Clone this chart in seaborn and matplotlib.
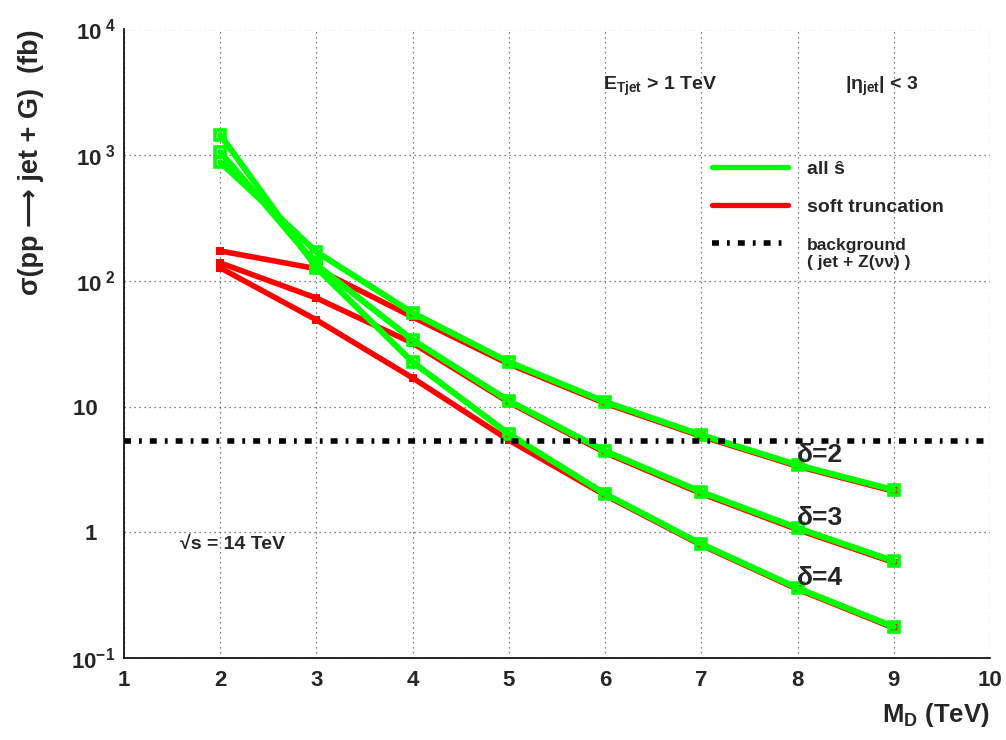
import matplotlib
matplotlib.use("Agg")
import matplotlib.pyplot as plt
import numpy as np
import pandas as pd
import seaborn as sns
from matplotlib.ticker import FixedLocator, MultipleLocator, LogLocator, FixedFormatter, NullFormatter
from matplotlib.lines import Line2D

# ---------------- data ----------------
m_d = [2, 3, 4, 5, 6, 7, 8, 9]
all_s_delta2 = [880, 170, 55.6, 22.6, 10.9, 5.94, 3.43, 2.17]
all_s_delta3 = [1060, 134, 33.9, 11.1, 4.43, 2.09, 1.08, 0.59]
all_s_delta4 = [1450, 127, 22.6, 6.05, 2.02, 0.807, 0.36, 0.177]
soft_delta2 = [173, 125, 51.6, 21.8, 10.6, 5.80, 3.35, 2.12]
soft_delta3 = [139, 73.0, 32.0, 10.8, 4.30, 2.03, 1.05, 0.575]
soft_delta4 = [127, 48.9, 16.9, 5.40, 1.97, 0.79, 0.352, 0.173]
background_value = 5.3

x_ticks = [1, 2, 3, 4, 5, 6, 7, 8, 9, 10]
y_ticks = [0.1, 1, 10, 100, 1000, 10000]
y_tick_labels = [r"$10^{-1}$", "1   ", "10   ", r"$10^{\ 2}$", r"$10^{\ 3}$", r"$10^{\ 4}$"]
delta_labels = ["δ=2", "δ=3", "δ=4"]

GREEN = "#00ff00"
RED = "#ff0000"

# ---------------- style ----------------
sns.set_style("white")
plt.rcParams["font.family"] = ["Liberation Sans", "DejaVu Sans"]
plt.rcParams["font.weight"] = "bold"
plt.rcParams["mathtext.fontset"] = "custom"
plt.rcParams["mathtext.rm"] = "Liberation Sans:bold"
plt.rcParams["mathtext.it"] = "Liberation Sans:bold"
plt.rcParams["mathtext.bf"] = "Liberation Sans:bold"
plt.rcParams["mathtext.default"] = "rm"

fig = plt.figure(figsize=(10.06, 7.40), dpi=100)
ax = fig.add_axes([124 / 1006, 1 - 658 / 740, 866 / 1006, 628.5 / 740])

records = []
for name, vals in [("all2", all_s_delta2), ("all3", all_s_delta3), ("all4", all_s_delta4),
                   ("soft2", soft_delta2), ("soft3", soft_delta3), ("soft4", soft_delta4)]:
    for x, v in zip(m_d, vals):
        records.append({"series": name, "M_D": x, "sigma": v})
df = pd.DataFrame(records)

# soft truncation (red) underneath
for s in ["soft2", "soft3", "soft4"]:
    d = df[df.series == s]
    sns.lineplot(data=d, x="M_D", y="sigma", ax=ax, color=RED, lw=4.0, sort=False,
                 estimator=None, marker="s", markersize=6, markeredgewidth=0,
                 markerfacecolor=RED, zorder=3, legend=False)

# all s-hat (green) on top
for s in ["all2", "all3", "all4"]:
    d = df[df.series == s]
    sns.lineplot(data=d, x="M_D", y="sigma", ax=ax, color=GREEN, lw=4.4, sort=False,
                 estimator=None, marker="s", markersize=7, markeredgewidth=2.6,
                 markerfacecolor="none", markeredgecolor=GREEN, zorder=4, legend=False)

# background
ax.axhline(background_value, color="black", lw=4.0, dashes=[1.25, 1.45, 0.5, 1.45], zorder=5)

ax.set_yscale("log")
ax.set_xlim(1, 10)
ax.set_ylim(0.1, 10000)

ax.xaxis.set_major_locator(FixedLocator(x_ticks))
ax.xaxis.set_minor_locator(MultipleLocator(0.2))
ax.set_xticklabels([str(t) for t in x_ticks])
ax.yaxis.set_major_locator(FixedLocator(y_ticks))
ax.yaxis.set_major_formatter(FixedFormatter(y_tick_labels))
ax.yaxis.set_minor_locator(LogLocator(base=10, subs=np.arange(2, 10)))
ax.yaxis.set_minor_formatter(NullFormatter())

ax.tick_params(which="both", direction="in", top=False, right=False, width=1.0, color="black")
ax.tick_params(which="major", length=7)
ax.tick_params(which="minor", length=6.5)
ax.tick_params(axis="x", which="major", pad=9, labelsize=16)
ax.tick_params(axis="y", which="major", pad=6, labelsize=16)

ax.grid(True, which="major", color="#555555", lw=0.9, ls=(0, (1, 3)))
for sp in ["top", "right"]:
    ax.spines[sp].set_visible(False)
for sp in ["left", "bottom"]:
    ax.spines[sp].set_linewidth(1.2)
    ax.spines[sp].set_color("black")

ax.set_xlabel(r"M$_{\mathrm{D}}$ (TeV)", fontsize=18.5, fontweight="bold", loc="right")
ax.xaxis.set_label_coords(1.0, -0.068)
ax.xaxis.label.set_va("top")
ax.set_ylabel("σ(pp ⟶ jet + G)  (fb)", fontsize=19.5, fontweight="bold", loc="top",
              family=["Liberation Sans", "DejaVu Sans"])
ax.yaxis.set_label_coords(-0.092, 1.0)

# annotations
ax.text(0.553, 0.9037, r"E$_{\mathrm{Tjet}}$ > 1 TeV", transform=ax.transAxes, fontsize=14,
        fontweight="bold", va="baseline", ha="left")
ax.text(0.8326, 0.9037, r"|η$_{\mathrm{jet}}$| < 3", transform=ax.transAxes, fontsize=14,
        fontweight="bold", va="baseline", ha="left")
ax.text(0.0647, 0.1734, "√s = 14 TeV", transform=ax.transAxes, fontsize=14,
        fontweight="bold", va="baseline", ha="left")
for lab, yy in zip(delta_labels, [0.323, 0.2228, 0.1273]):
    ax.text(0.777, yy, lab, transform=ax.transAxes, fontsize=19, fontweight="bold",
            va="center", ha="left", zorder=6)

# legend
handles = [Line2D([], [], color=GREEN, lw=3.8),
           Line2D([], [], color=RED, lw=3.8),
           Line2D([], [], color="black", lw=4.0, dashes=[1.25, 1.45, 0.5, 1.45])]
leg = ax.legend(handles, ["all ŝ", "soft truncation", "background"], loc="upper left",
                bbox_to_anchor=(712 / 1006, 1 - 160 / 740), bbox_transform=fig.transFigure,
                frameon=False, fontsize=14, handlelength=3.9, handletextpad=1.0,
                labelspacing=1.05, borderpad=0, borderaxespad=0)
leg.get_texts()[2].set_fontsize(12.5)
ax.text(807 / 1006, 1 - 263 / 740, "( jet + Z(νν) )", transform=fig.transFigure,
        fontsize=12.5, fontweight="bold", va="center", ha="left")

fig.savefig("out.png", dpi=100)
